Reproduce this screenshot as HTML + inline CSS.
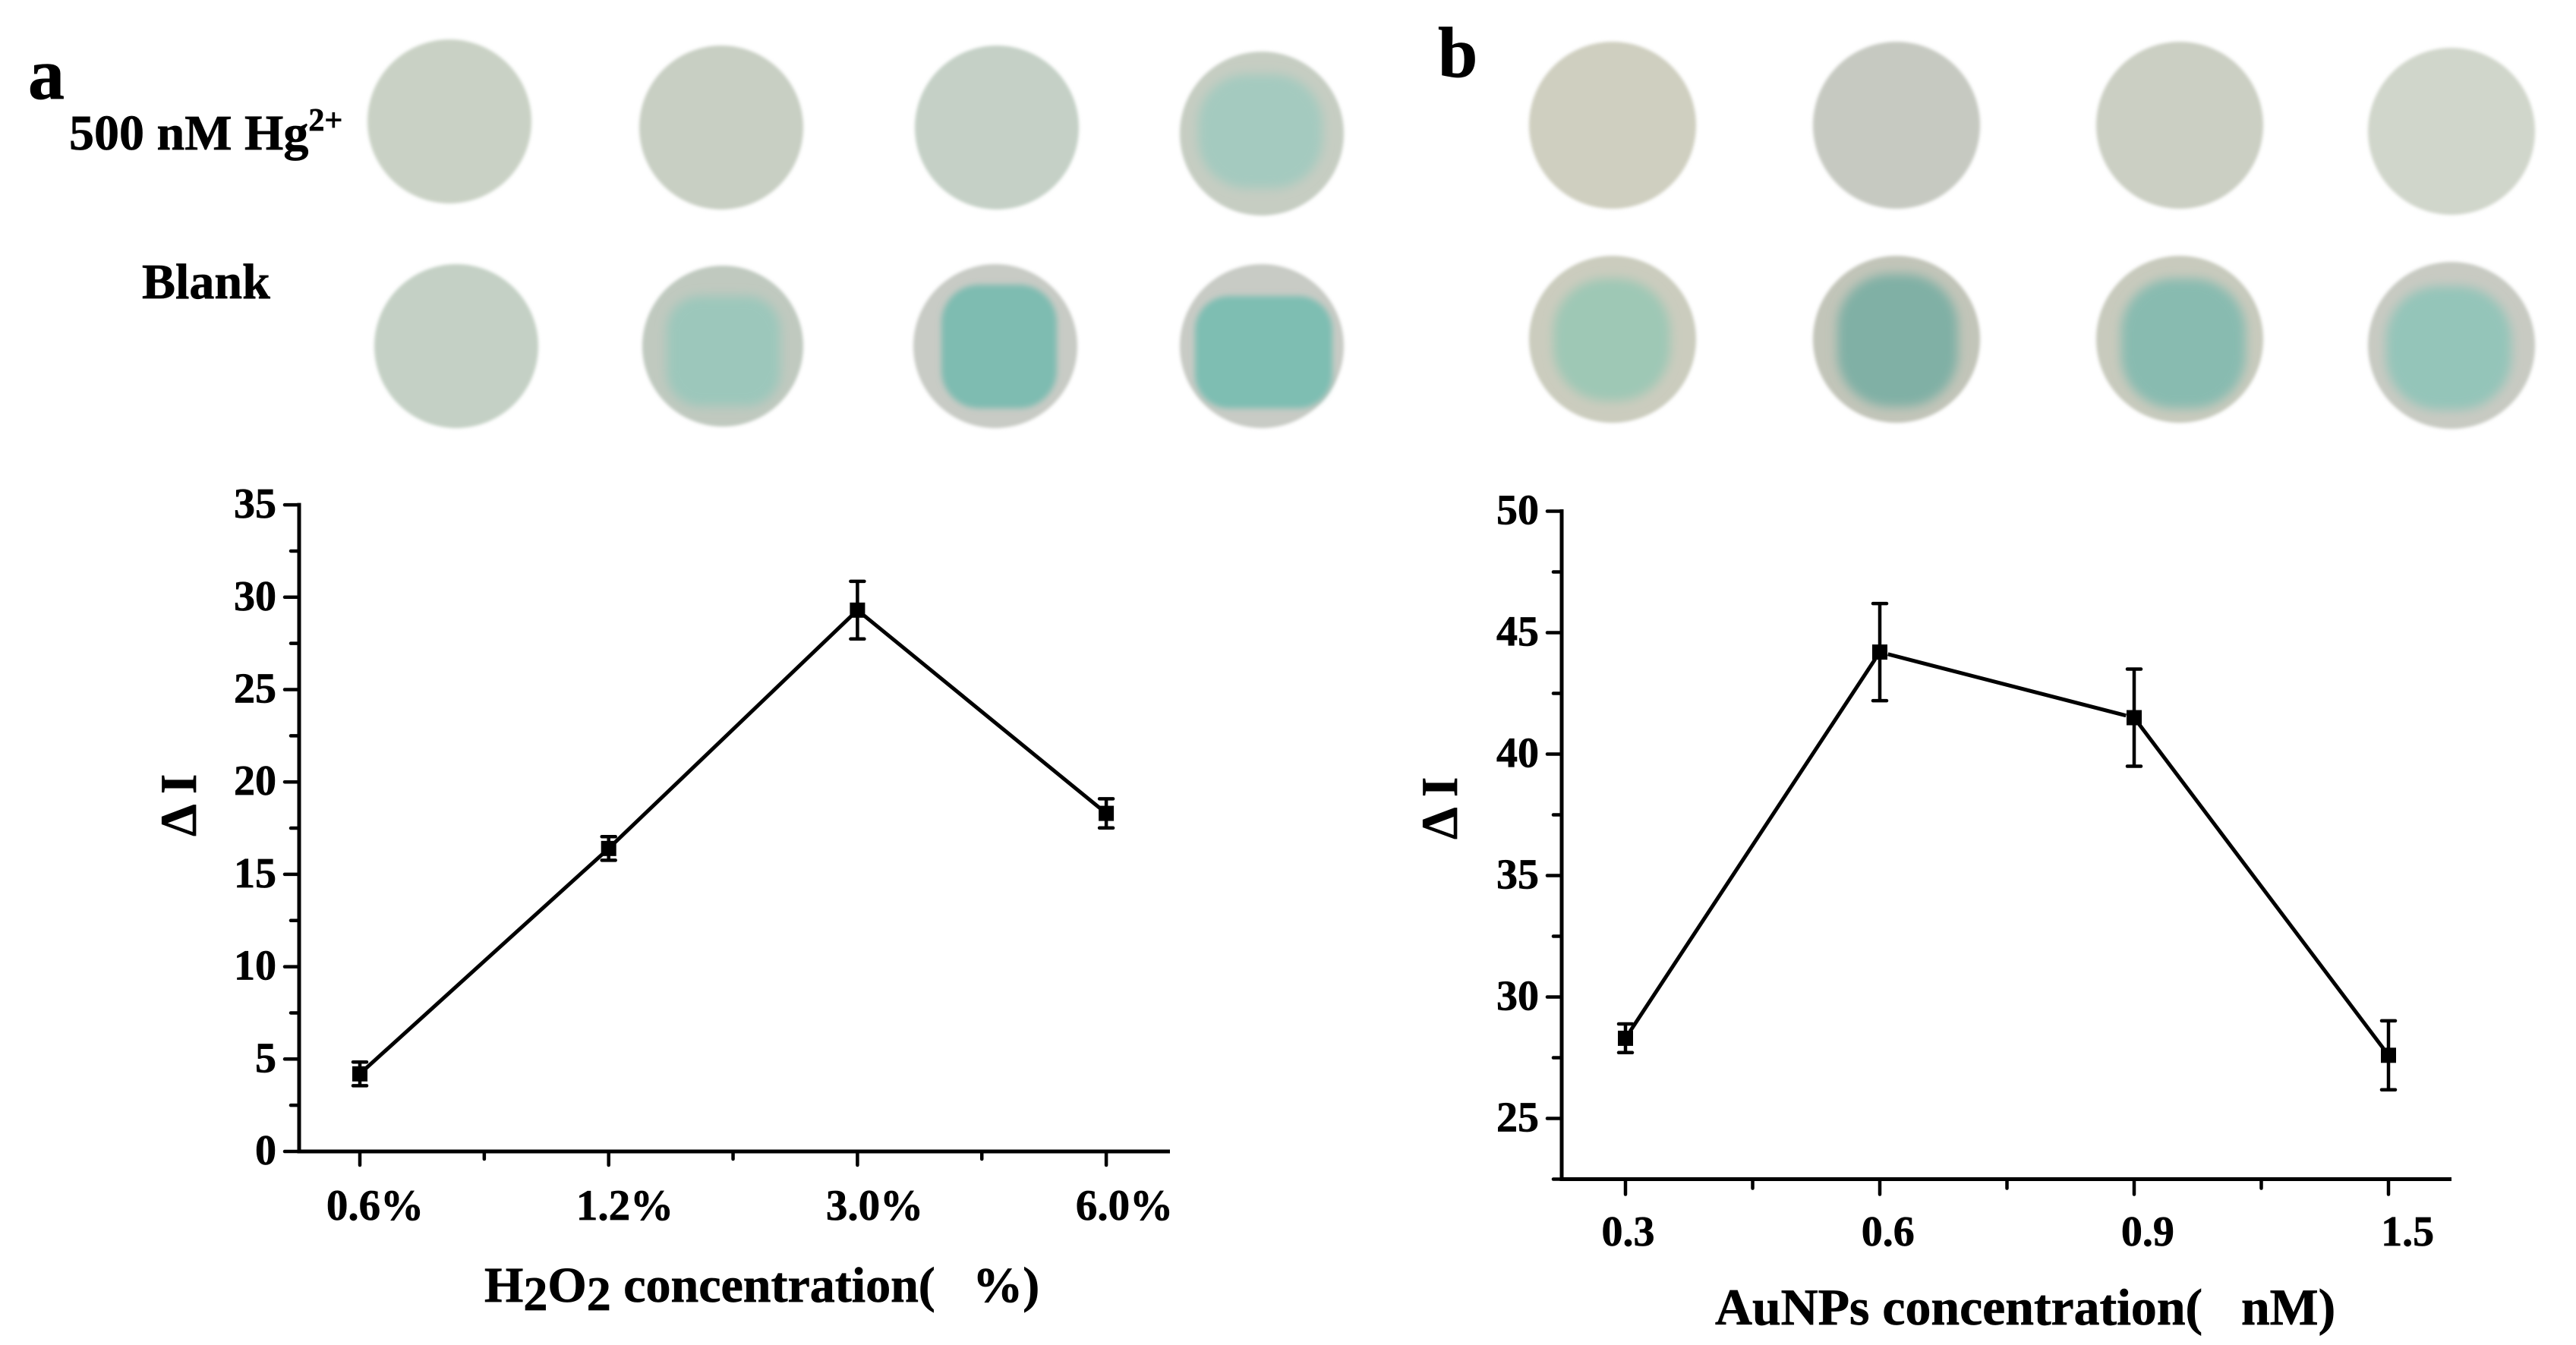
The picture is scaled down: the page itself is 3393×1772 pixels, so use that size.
<!DOCTYPE html>
<html lang="en">
<head>
<meta charset="utf-8">
<title>Optimization of H2O2 and AuNPs concentration</title>
<style>
  html, body { margin: 0; padding: 0; background: #fff; }
  svg { display: block; }
  text { font-family: "Liberation Serif", serif; font-weight: bold; fill: #000; stroke: #000; stroke-width: 0.7px; white-space: pre; }
</style>
</head>
<body>
<svg id="figure" xmlns="http://www.w3.org/2000/svg" width="3393" height="1772" viewBox="0 0 3393 1772">
  <defs>
    <filter id="soft" x="-10%" y="-10%" width="120%" height="120%"><feGaussianBlur stdDeviation="2"/></filter>
    <filter id="medium" x="-20%" y="-20%" width="140%" height="140%"><feGaussianBlur stdDeviation="4"/></filter>
    <filter id="softer" x="-30%" y="-30%" width="160%" height="160%"><feGaussianBlur stdDeviation="7"/></filter>
  </defs>
  <rect width="3393" height="1772" fill="#ffffff"/>

  <text x="37" y="130" font-size="96">a</text>
  <text x="1894" y="101" font-size="94">b</text>
  <text x="91" y="197" font-size="66">500 nM Hg<tspan font-size="42" dy="-25">2+</tspan></text>
  <text x="187" y="393" font-size="66">Blank</text>

  <g filter="url(#soft)">
    <circle cx="592" cy="160" r="108" fill="#c9d1c5"/>
    <circle cx="950" cy="168" r="108" fill="#c8cfc3"/>
    <circle cx="1313" cy="168" r="108" fill="#c5d0c6"/>
    <circle cx="1662" cy="176" r="108" fill="#c6cdc2"/>
  </g>
  <rect x="1578" y="98" width="164" height="150" rx="65" fill="#a4cabf" filter="url(#softer)"/>

  <g filter="url(#soft)">
    <circle cx="601" cy="456" r="108" fill="#c4d0c5"/>
    <circle cx="952" cy="456" r="106" fill="#c0c9bf"/>
    <circle cx="1311" cy="456" r="108" fill="#c8cbc5"/>
    <circle cx="1662" cy="456" r="108" fill="#c8cbc5"/>
  </g>
  <rect x="878" y="390" width="150" height="145" rx="45" fill="#9cc7bb" filter="url(#softer)"/>
  <rect x="1240" y="375" width="152" height="163" rx="50" fill="#7ebcb1" filter="url(#medium)"/>
  <rect x="1574" y="390" width="181" height="148" rx="45" fill="#7ebeb2" filter="url(#medium)"/>

  <g filter="url(#soft)">
    <circle cx="2124" cy="165" r="110" fill="#cfcfc0"/>
    <circle cx="2498" cy="165" r="110" fill="#c6c9c1"/>
    <circle cx="2871" cy="165" r="110" fill="#cbcfc3"/>
    <circle cx="3229" cy="173" r="110" fill="#d0d6cb"/>
  </g>

  <g filter="url(#soft)">
    <circle cx="2124" cy="447" r="110" fill="#cbccbe"/>
    <circle cx="2498" cy="447" r="110" fill="#c2c5b9"/>
    <circle cx="2871" cy="447" r="110" fill="#c8cabd"/>
    <circle cx="3229" cy="455" r="110" fill="#c8cac2"/>
  </g>
  <rect x="2046" y="367" width="154" height="161" rx="70" fill="#9ec8b5" filter="url(#softer)"/>
  <rect x="2420" y="361" width="159" height="175" rx="70" fill="#80b0a5" filter="url(#softer)"/>
  <rect x="2794" y="367" width="164" height="171" rx="70" fill="#88bbb0" filter="url(#softer)"/>
  <rect x="3143" y="377" width="165" height="163" rx="70" fill="#94c5b9" filter="url(#softer)"/>

  <g id="chart-a"></g>
  <g id="chart-b"></g>

  <text x="638" y="1715" font-size="66">H<tspan font-size="64" dy="11">2</tspan><tspan dy="-11">O</tspan><tspan font-size="64" dy="11">2</tspan><tspan dy="-11"> concentration(   %)</tspan></text>
  <text x="2259" y="1745" font-size="67.8">AuNPs concentration(   nM)</text>
  <text transform="translate(258 1102) rotate(-90)" font-size="68">Δ I</text>
  <text transform="translate(1919 1106) rotate(-90)" font-size="68">Δ I</text>
</svg>

<script>
// Panel a: H2O2 optimisation
const aCategories = ['0.6%', '1.2%', '3.0%', '6.0%'];
const aValues = [4.2, 16.4, 29.3, 18.3];
const aErrors = [0.64, 0.64, 1.56, 0.79];
const aYTicks = [0, 5, 10, 15, 20, 25, 30, 35];
const aYTickLabels = ['0', '5', '10', '15', '20', '25', '30', '35'];

// Panel b: AuNPs optimisation
const bCategories = ['0.3', '0.6', '0.9', '1.5'];
const bValues = [28.3, 44.2, 41.5, 27.6];
const bErrors = [0.59, 2.0, 2.0, 1.42];
const bYTicks = [25, 30, 35, 40, 45, 50];
const bYTickLabels = ['25', '30', '35', '40', '45', '50'];

const SVG_NS = 'http://www.w3.org/2000/svg';

function lineEl(parent, x1, y1, x2, y2, width, cap) {
  const el = document.createElementNS(SVG_NS, 'line');
  el.setAttribute('x1', x1);
  el.setAttribute('y1', y1);
  el.setAttribute('x2', x2);
  el.setAttribute('y2', y2);
  el.setAttribute('stroke', '#000');
  el.setAttribute('stroke-width', width);
  el.setAttribute('stroke-linecap', cap || 'butt');
  parent.appendChild(el);
  return el;
}

function textEl(parent, x, y, size, anchor, content) {
  const el = document.createElementNS(SVG_NS, 'text');
  el.setAttribute('x', x);
  el.setAttribute('y', y);
  el.setAttribute('font-size', size);
  el.setAttribute('text-anchor', anchor);
  el.textContent = content;
  parent.appendChild(el);
  return el;
}

function drawChart(group, cfg, categories, values, errors, yTicks, yLabels) {
  const xScale = i => cfg.x0 + cfg.xStep * i;
  const labelX = i => cfg.labelX0 + cfg.labelStep * i;
  const yScale = v => cfg.yBottom - (v - cfg.yMin) * cfg.yPerUnit;

  // axes
  const yAxis = lineEl(group, cfg.axisX, yScale(cfg.yMax) - 2.5, cfg.axisX, cfg.yBottom + 2.5, 5);
  
  
  const xAxis = lineEl(group, cfg.axisX, cfg.yBottom, cfg.axisEnd, cfg.yBottom, 5);
  
  

  // y ticks
  yTicks.forEach((v, i) => {
    const t = lineEl(group, cfg.axisX - 19, yScale(v), cfg.axisX, yScale(v), 4.5, 'round');
    
    
    const l = textEl(group, cfg.yLabelRight, yScale(v) + 17, 56, 'end', yLabels[i]);
    
    
  });
  for (let v = cfg.yMin; v < cfg.yMax; v += cfg.minorStep) {
    if (yTicks.includes(v)) continue;
    const m = lineEl(group, cfg.axisX - 11, yScale(v), cfg.axisX, yScale(v), 4.5, 'round');
    
    
  }

  // x ticks
  categories.forEach((c, i) => {
    const t = lineEl(group, xScale(i), cfg.yBottom, xScale(i), cfg.yBottom + cfg.majorLen, 4.5, 'round');
    
    
    const l = textEl(group, labelX(i), cfg.xLabelY, cfg.xLabelSize, 'middle', c);
    
    
    if (i < categories.length - 1) {
      const m = lineEl(group, xScale(i + 0.5), cfg.yBottom, xScale(i + 0.5), cfg.yBottom + cfg.majorLen - 8, 4.5, 'round');
      
      
    }
  });

  // connecting line segments, stopped just short of the markers
  values.forEach((v, i) => {
    if (i === values.length - 1) return;
    const x1 = xScale(i), y1 = yScale(v), x2 = xScale(i + 1), y2 = yScale(values[i + 1]);
    const len = Math.hypot(x2 - x1, y2 - y1);
    const ux = (x2 - x1) / len, uy = (y2 - y1) / len;
    const gap = 11;
    const seg = lineEl(group, x1 + ux * gap, y1 + uy * gap, x2 - ux * gap, y2 - uy * gap, 5);
    
    
  });

  // error bars and markers
  values.forEach((v, i) => {
    const cx = xScale(i), cy = yScale(v);
    const top = yScale(v + errors[i]), bottom = yScale(v - errors[i]);
    const stem = lineEl(group, cx, top, cx, bottom, 4.5);
    
    
    const capTop = lineEl(group, cx - 9, top, cx + 9, top, 4.5, 'round');
    
    
    const capBottom = lineEl(group, cx - 9, bottom, cx + 9, bottom, 4.5, 'round');
    
    
    const pt = document.createElementNS(SVG_NS, 'rect');
    pt.setAttribute('x', cx - 10);
    pt.setAttribute('y', cy - 10);
    pt.setAttribute('width', 20);
    pt.setAttribute('height', 20);
    pt.setAttribute('fill', '#000');
    
    
    group.appendChild(pt);
  });
}

drawChart(document.getElementById('chart-a'), {
  x0: 474, xStep: 327.7, labelX0: 494, labelStep: 329,
  axisX: 394, axisEnd: 1541,
  yBottom: 1517, yMin: 0, yMax: 35, yPerUnit: 24.34, minorStep: 2.5,
  yLabelRight: 364, xLabelY: 1607, xLabelSize: 57, majorLen: 18
}, aCategories, aValues, aErrors, aYTicks, aYTickLabels);

drawChart(document.getElementById('chart-b'), {
  x0: 2141, xStep: 335, labelX0: 2144.5, labelStep: 342.2,
  axisX: 2057, axisEnd: 3229,
  yBottom: 1553.5, yMin: 22.5, yMax: 50, yPerUnit: 32, minorStep: 2.5,
  yLabelRight: 2027, xLabelY: 1641, xLabelSize: 56, majorLen: 20
}, bCategories, bValues, bErrors, bYTicks, bYTickLabels);
</script>
</body>
</html>
